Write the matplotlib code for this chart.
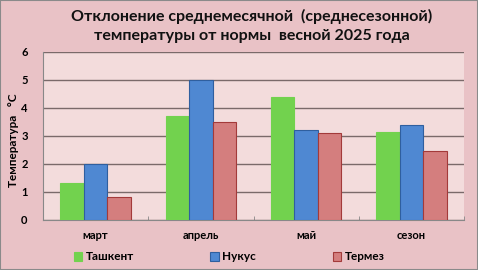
import matplotlib
matplotlib.use("Agg")
import matplotlib.pyplot as plt
import numpy as np

categories = ["март", "апрель", "май", "сезон"]
series_names = ["Ташкент", "Нукус", "Термез"]
tashkent = [1.31, 3.71, 4.39, 3.14]
nukus = [2.0, 5.0, 3.2, 3.38]
termez = [0.81, 3.49, 3.1, 2.45]
y_ticks = [0, 1, 2, 3, 4, 5, 6]

plt.rcParams['font.family'] = ['Lato', 'DejaVu Sans']
plt.rcParams['font.weight'] = 'bold'

W, H = 478, 270
fig = plt.figure(figsize=(W/100, H/100), dpi=100, facecolor='#E9C2C6')
ax = fig.add_axes([43/W, 1-220/H, (464-43)/W, (220-52)/H])
ax.set_facecolor('#F3DCDC')

x = np.arange(len(categories))
bw = 0.223
colors = ['#72D24E', '#4F88D2', '#D47E7E']
edges = ['#72D24E', '#2F5F9F', '#A33A3A']
vals = [tashkent, nukus, termez]
for i, (v, c, e, n) in enumerate(zip(vals, colors, edges, series_names)):
    ax.bar(x + (i-1)*bw, v, bw, color=c, edgecolor=e, linewidth=0.8, label=n, zorder=3)

ax.set_xlim(-0.5, 3.5)
ax.set_ylim(0, 6)
ax.set_yticks(y_ticks)
ax.yaxis.grid(True, color='#7A6A6A', linewidth=1.0, zorder=1)
ax.set_axisbelow(True)
ax.set_xticks(x)
ax.set_xticklabels(categories, fontsize=8, fontweight='bold')
ax.set_xticks(np.arange(-0.5, 4, 1), minor=True)
ax.tick_params(axis='x', which='major', length=0, pad=7)
ax.tick_params(axis='x', which='minor', length=3, color='#888888', direction='in')
ax.tick_params(axis='y', length=0, pad=11, labelsize=8)
for lab in ax.get_yticklabels():
    lab.set_fontweight('bold')
for s in ['left', 'bottom']:
    ax.spines[s].set_color('#888888')
ax.spines['top'].set_visible(False)
ax.spines['right'].set_visible(False)

fig.text(14/W, 1-140/H, "Температура   °С", rotation=90, ha='center', va='center',
         fontsize=8.5, fontweight='bold')

fig.text(252/W, 1-16/H, "Отклонение среднемесячной  (среднесезонной)", ha='center', va='center',
         fontsize=11.5, fontweight='bold', color='#111111')
fig.text(252/W, 1-36/H, "температуры от нормы  весной 2025 года", ha='center', va='center',
         fontsize=11.5, fontweight='bold', color='#111111')

leg = fig.legend(loc='center', bbox_to_anchor=(229/W, 1-257/H), ncol=3, frameon=False,
                 fontsize=8.5, handlelength=0.7, handleheight=0.7, handletextpad=0.3,
                 columnspacing=6.5)
for t in leg.get_texts():
    t.set_fontweight('bold')

fig.patches.append(plt.Rectangle((0, 0), 1, 1, transform=fig.transFigure, fill=False,
                                 edgecolor='#8A8A8A', linewidth=1.5))
fig.savefig("out.png", dpi=100, facecolor=fig.get_facecolor())
